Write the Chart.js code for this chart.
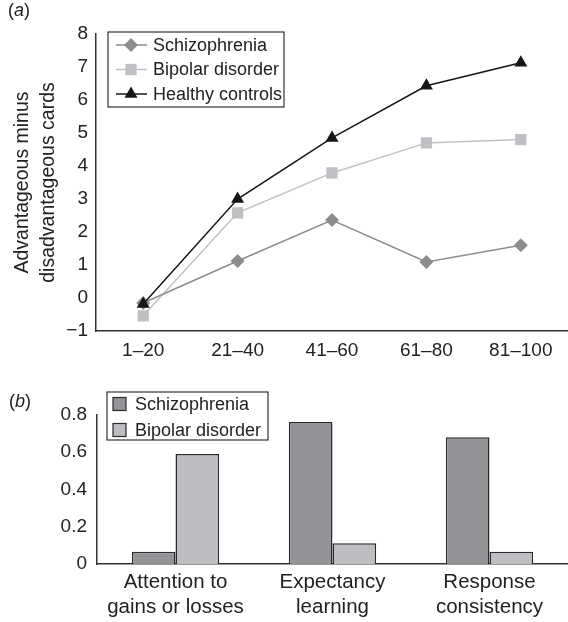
<!DOCTYPE html>
<html>
<head>
<meta charset="utf-8">
<script src="https://cdn.jsdelivr.net/npm/chart.js@4.4.1/dist/chart.umd.min.js"></script>
<style>
  body { margin: 0; background: #fff; font-family: "Liberation Sans", Arial, sans-serif; }
  #wrap { position: relative; width: 568px; height: 622px; overflow: hidden; }
  .panel { position: absolute; left: 0; width: 568px; }
  .tag { position: absolute; font-size: 18px; color: #222; }
</style>
</head>
<body>
<div id="wrap">
  <div class="panel" style="top:0;height:370px"><canvas id="lineChart"></canvas></div>
  <div class="panel" style="top:375px;height:247px"><canvas id="barChart"></canvas></div>
  <div class="tag" style="left:8px;top:0px">(<i>a</i>)</div>
  <div class="tag" style="left:9px;top:391px">(<i>b</i>)</div>
</div>
<script>
// panel (a): card blocks
const blocks = ["1–20", "21–40", "41–60", "61–80", "81–100"];
const schizophrenia = [-0.15, 1.12, 2.36, 1.09, 1.6];
const bipolar = [-0.54, 2.58, 3.79, 4.7, 4.8];
const healthy = [-0.18, 3.0, 4.85, 6.43, 7.13];

// panel (b): model parameters
const parameters = [["Attention to", "gains or losses"], ["Expectancy", "learning"], ["Response", "consistency"]];
const schizParams = [0.066, 0.763, 0.681];
const bipolarParams = [0.59, 0.111, 0.066];

const textColor = "#222";
const tickFont = { family: "Liberation Sans", size: 19 };

// legend with a frame, drawn inside the plot
const boxLegend = {
  id: "boxLegend",
  afterDraw(chart, args, opts) {
    if (!opts.items) return;
    const ctx = chart.ctx;
    ctx.save();
    ctx.strokeStyle = "#333";
    ctx.lineWidth = 1.2;
    ctx.fillStyle = "#fff";
    ctx.fillRect(opts.x, opts.y, opts.w, opts.h);
    ctx.strokeRect(opts.x, opts.y, opts.w, opts.h);
    ctx.font = "18px 'Liberation Sans'";
    ctx.textBaseline = "middle";
    opts.items.forEach((idx, i) => {
      const ds = chart.data.datasets[idx];
      const cy = opts.y + opts.first + i * opts.step;
      if (opts.kind === "line") {
        ctx.strokeStyle = ds.borderColor;
        ctx.lineWidth = 1.5;
        ctx.beginPath();
        ctx.moveTo(opts.x + 8, cy);
        ctx.lineTo(opts.x + 39, cy);
        ctx.stroke();
        ctx.fillStyle = ds.pointBackgroundColor;
        Chart.helpers.drawPoint(ctx, { pointStyle: ds.pointStyle, radius: ds.pointRadius, borderWidth: 0 }, opts.x + 23, cy);
      } else {
        ctx.fillStyle = ds.backgroundColor;
        ctx.strokeStyle = "#2a2a2a";
        ctx.lineWidth = 1.2;
        ctx.fillRect(opts.x + 6, cy - 6.5, 13, 13);
        ctx.strokeRect(opts.x + 6, cy - 6.5, 13, 13);
      }
      ctx.fillStyle = textColor;
      ctx.fillText(ds.label, opts.x + opts.textX, cy + 1);
    });
    ctx.restore();
  }
};

new Chart(document.getElementById("lineChart"), {
  type: "line",
  data: {
    labels: blocks,
    datasets: [
      { label: "Schizophrenia", data: schizophrenia, borderColor: "#8d8d90", pointBackgroundColor: "#8d8d90",
        pointBorderWidth: 0, pointStyle: "rectRot", pointRadius: 7, borderWidth: 1.5, order: 2 },
      { label: "Bipolar disorder", data: bipolar, borderColor: "#bfc0c3", pointBackgroundColor: "#bfc0c3",
        pointBorderWidth: 0, pointStyle: "rect", pointRadius: 8, borderWidth: 1.5, order: 3 },
      { label: "Healthy controls", data: healthy, borderColor: "#161616", pointBackgroundColor: "#161616",
        pointBorderWidth: 0, pointStyle: "triangle", pointRadius: 7.5, borderWidth: 1.5, order: 1 }
    ]
  },
  options: {
    responsive: true,
    maintainAspectRatio: false,
    animation: false,
    // no extra room for point markers, the plot runs to the right edge
    layout: { autoPadding: false, padding: { top: 34, left: 0, right: -3, bottom: 0 } },
    plugins: {
      legend: { display: false },
      tooltip: { enabled: false },
      boxLegend: { kind: "line", items: [0, 1, 2], x: 108, y: 32, w: 176, h: 75, first: 13, step: 24.5, textX: 45 }
    },
    scales: {
      x: {
        offset: true,
        grid: { display: false, drawTicks: false },
        border: { display: true, color: "#333", width: 1.5 },
        ticks: { color: textColor, font: tickFont, padding: 8, maxRotation: 0 },
        afterFit: (s) => { s.height = 39; }
      },
      y: {
        min: -1,
        max: 8,
        grid: { display: false, drawTicks: false },
        border: { display: true, color: "#333", width: 1.5 },
        ticks: { stepSize: 1, color: textColor, font: tickFont, padding: 8,
          callback: (v) => (v < 0 ? "−" + Math.abs(v) : v) },
        title: { display: true, text: ["Advantageous minus", "disadvantageous cards"], color: textColor,
          font: { family: "Liberation Sans", size: 19.5, lineHeight: 1.32 }, padding: { top: 10 } },
        afterFit: (s) => { s.width = 96; }
      }
    }
  },
  plugins: [boxLegend]
});

new Chart(document.getElementById("barChart"), {
  type: "bar",
  data: {
    labels: parameters,
    datasets: [
      { label: "Schizophrenia", data: schizParams, backgroundColor: "#939497", borderColor: "#2a2a2a", borderWidth: 1.5 },
      { label: "Bipolar disorder", data: bipolarParams, backgroundColor: "#bdbec1", borderColor: "#2a2a2a", borderWidth: 1.5 }
    ]
  },
  options: {
    responsive: true,
    maintainAspectRatio: false,
    animation: false,
    layout: { autoPadding: false, padding: { top: 40, left: 0, right: -4, bottom: 0 } },
    datasets: { bar: { categoryPercentage: 0.556, barPercentage: 1.0 } },
    plugins: {
      legend: { display: false },
      tooltip: { enabled: false },
      boxLegend: { kind: "bar", items: [0, 1], x: 107, y: 17, w: 161, h: 48, first: 12, step: 26, textX: 28 }
    },
    scales: {
      x: {
        grid: { display: false, drawTicks: false },
        border: { display: true, color: "#333", width: 1.5 },
        ticks: { color: textColor, font: { family: "Liberation Sans", size: 20.5, lineHeight: 1.22 }, padding: 6, maxRotation: 0 },
        afterFit: (s) => { s.height = 58; }
      },
      y: {
        min: 0,
        max: 0.8,
        grid: { display: false, drawTicks: false },
        border: { display: true, color: "#333", width: 1.5 },
        ticks: { stepSize: 0.2, color: textColor, font: tickFont, padding: 10 },
        afterFit: (s) => { s.width = 97; }
      }
    }
  },
  plugins: [boxLegend]
});
</script>
</body>
</html>
